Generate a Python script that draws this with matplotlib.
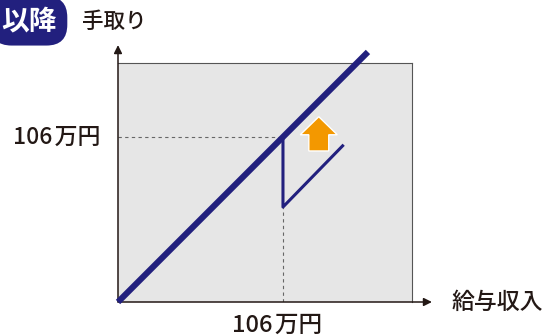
import matplotlib.pyplot as plt
from matplotlib.patches import FancyArrow

plt.rcParams['font.family'] = ['Noto Sans CJK JP', 'DejaVu Sans']

# values in 万円 (x: 給与収入, y: 手取り)
threshold = 106
before_x = [0, 160.6]
before_y = [0, 160.6]
after_x = [106, 106, 145]
after_y = [106, 61, 101]
arrow_x = 129
arrow_y = [97, 119]
xlim_max = 188.9
ylim_max = 153.5

navy = '#22207e'
dark = '#231815'

fig = plt.figure(figsize=(5.5, 3.36), dpi=100)
ax = fig.add_axes([118 / 550, 34 / 336, 294 / 550, 239 / 336])
ax.set_xlim(0, xlim_max)
ax.set_ylim(0, ylim_max)
ax.set_facecolor('#e6e6e6')
ax.set_xticks([])
ax.set_yticks([])
for s in ['left', 'bottom']:
    ax.spines[s].set_visible(False)
for s in ['top', 'right']:
    ax.spines[s].set_color('#555555')
    ax.spines[s].set_linewidth(0.8)

# dashed guides
ax.plot([0, threshold], [threshold, threshold], ls=(0, (3, 3)), color='#666666', lw=0.8)
ax.plot([threshold, threshold], [0, after_y[1]], ls=(0, (3, 3)), color='#666666', lw=0.8)

# lines
ax.plot(before_x, before_y, color=navy, lw=4.4, solid_capstyle='butt', clip_on=False, zorder=5)
ax.plot(after_x, after_y, color=navy, lw=2.2, solid_capstyle='butt', zorder=4)

# orange up arrow
ax.add_patch(FancyArrow(arrow_x, arrow_y[0], 0, arrow_y[1] - arrow_y[0], width=12.8,
                        head_width=23.8, head_length=11.6, length_includes_head=True,
                        fc='#f39800', ec='white', lw=1, zorder=6))

# axis arrows
ax.annotate('', xy=(0, 165), xytext=(0, 0), xycoords='data',
            arrowprops=dict(arrowstyle='-|>', color=dark, lw=1.1, mutation_scale=12,
                            shrinkA=0, shrinkB=0), annotation_clip=False)
ax.annotate('', xy=(201.7, 0), xytext=(0, 0), xycoords='data',
            arrowprops=dict(arrowstyle='-|>', color=dark, lw=1.1, mutation_scale=12,
                            shrinkA=0, shrinkB=0), annotation_clip=False)

# labels
lbl = '106\u200a万円'
ax.text(-11.6, threshold, lbl, ha='right', va='center', fontsize=16.5, color=dark,
        fontweight='medium', clip_on=False)
ax.text(threshold - 4, -7.5, lbl, ha='center', va='top', fontsize=17, color=dark,
        fontweight='medium', clip_on=False)
ax.text(214.6, 0, '給与収入', ha='left', va='center', fontsize=16.5, color=dark,
        fontweight='medium', clip_on=False)
fig.text(114 / 550, 1 - 22 / 336, '手取り', ha='center', va='center', fontsize=15.5, color=dark,
         fontweight='medium')

fig.text(29 / 550, 1 - 21 / 336, '以降', ha='center', va='center', fontsize=20, color='white',
         fontweight='bold',
         bbox=dict(boxstyle='round,pad=0.38,rounding_size=0.75', fc=navy, ec='none'))

plt.savefig('out.png', dpi=100)
